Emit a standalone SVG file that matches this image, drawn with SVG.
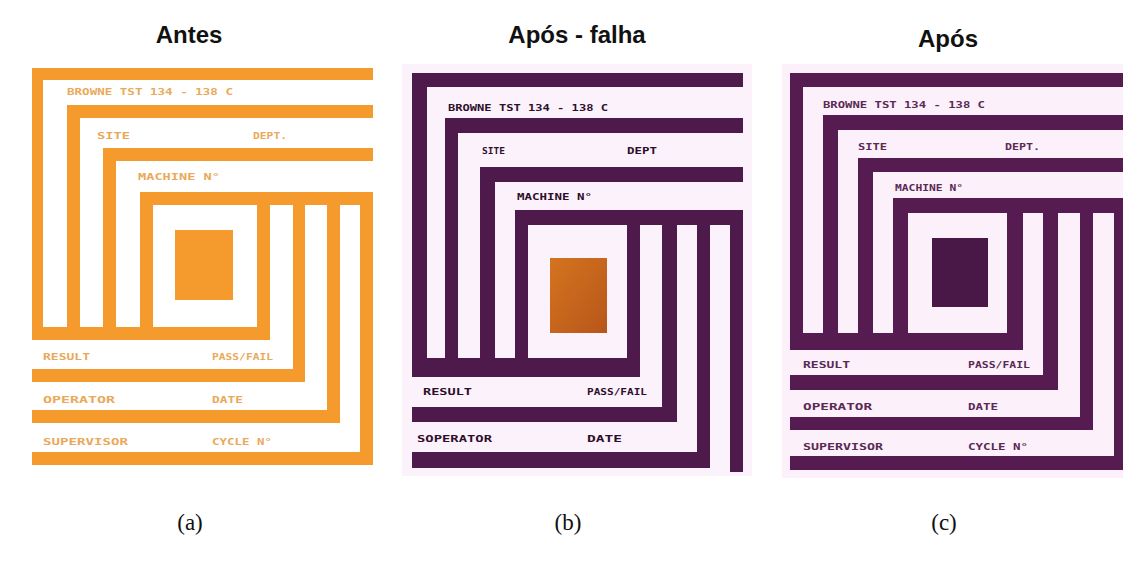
<svg xmlns="http://www.w3.org/2000/svg" width="1123" height="565" viewBox="0 0 1123 565">
  <defs>
    <linearGradient id="sqB" x1="0" y1="0" x2="1" y2="1">
      <stop offset="0" stop-color="#d4741f"/>
      <stop offset="1" stop-color="#b8561a"/>
    </linearGradient>
  </defs>
  <style>
    .title { font-family: "Liberation Sans", Arial, sans-serif; font-weight: bold; font-size: 24px; fill: #111; text-anchor: middle; }
    .cap { font-family: "Liberation Serif", "Times New Roman", serif; font-size: 23px; fill: #111; text-anchor: middle; }
    .or { fill: #f59b2e; }
    .pu { fill: #561c52; }
    .puB { fill: #4e1a4b; }
    .lblA { font-family: "DejaVu Sans Mono", "Liberation Mono", monospace; font-weight: bold; font-size: 8px; fill: #eaa95a; }
    .lblB { font-family: "DejaVu Sans Mono", "Liberation Mono", monospace; font-weight: bold; font-size: 9px; fill: #2e0f2c; }
    .lblC { font-family: "DejaVu Sans Mono", "Liberation Mono", monospace; font-weight: bold; font-size: 8px; fill: #5a2a56; }
  </style>
  <rect width="1123" height="565" fill="#ffffff"/>

  <!-- Titles -->
  <text class="title" x="189" y="43">Antes</text>
  <text class="title" x="577" y="43">Após - falha</text>
  <text class="title" x="948" y="47">Após</text>

  <!-- Panel (a) -->
  <g id="panel-a">
    <g class="or">
      <rect x="32" y="68" width="341" height="12"/>
      <rect x="32" y="68" width="11" height="272"/>
      <rect x="67" y="105" width="306" height="13"/>
      <rect x="67" y="105" width="13" height="235"/>
      <rect x="103" y="148" width="270" height="13"/>
      <rect x="103" y="148" width="13" height="192"/>
      <rect x="140" y="192" width="233" height="13"/>
      <rect x="140" y="192" width="13" height="148"/>
      <rect x="32" y="327" width="238" height="13"/>
      <rect x="257" y="192" width="13" height="148"/>
      <rect x="293" y="192" width="12" height="190"/>
      <rect x="32" y="369" width="273" height="13"/>
      <rect x="327" y="192" width="13" height="231"/>
      <rect x="32" y="410" width="308" height="13"/>
      <rect x="360" y="192" width="13" height="273"/>
      <rect x="32" y="452" width="341" height="13"/>
      <rect x="175" y="230" width="58" height="70"/>
    </g>
    <g class="lblA">
      <text x="67" y="95" textLength="166" lengthAdjust="spacingAndGlyphs">BROWNE TST 134 - 138 C</text>
      <text x="97" y="139" textLength="33" lengthAdjust="spacingAndGlyphs">SITE</text>
      <text x="253" y="139" textLength="34" lengthAdjust="spacingAndGlyphs">DEPT.</text>
      <text x="138" y="180" textLength="82" lengthAdjust="spacingAndGlyphs">MACHINE N°</text>
      <text x="43" y="360" textLength="47" lengthAdjust="spacingAndGlyphs">RESULT</text>
      <text x="212" y="360" textLength="61" lengthAdjust="spacingAndGlyphs">PASS/FAIL</text>
      <text x="43" y="403" textLength="72" lengthAdjust="spacingAndGlyphs">OPERATOR</text>
      <text x="212" y="403" textLength="31" lengthAdjust="spacingAndGlyphs">DATE</text>
      <text x="43" y="445" textLength="85" lengthAdjust="spacingAndGlyphs">SUPERVISOR</text>
      <text x="212" y="445" textLength="60" lengthAdjust="spacingAndGlyphs">CYCLE N°</text>
    </g>
  </g>

  <!-- Panel (b) -->
  <g id="panel-b">
    <rect x="402" y="64" width="350" height="412" fill="#fcf2fb"/>
    <g class="puB">
      <rect x="412" y="73" width="331" height="14"/>
      <rect x="412" y="73" width="15" height="304"/>
      <rect x="445" y="118" width="298" height="15"/>
      <rect x="445" y="118" width="13" height="259"/>
      <rect x="480" y="167" width="263" height="15"/>
      <rect x="480" y="167" width="15" height="210"/>
      <rect x="515" y="210" width="228" height="15"/>
      <rect x="515" y="210" width="13" height="167"/>
      <rect x="412" y="358" width="228" height="19"/>
      <rect x="627" y="210" width="13" height="167"/>
      <rect x="662" y="210" width="15" height="212"/>
      <rect x="412" y="407" width="265" height="15"/>
      <rect x="697" y="210" width="13" height="258"/>
      <rect x="412" y="452" width="298" height="16"/>
      <rect x="730" y="210" width="13" height="262"/>
    </g>
    <rect x="550" y="258" width="57" height="75" fill="url(#sqB)"/>
    <g class="lblB">
      <text x="448" y="111" textLength="160" lengthAdjust="spacingAndGlyphs">BROWNE TST 134 - 138 C</text>
      <text x="482" y="154" textLength="23" lengthAdjust="spacingAndGlyphs">SITE</text>
      <text x="627" y="154" textLength="30" lengthAdjust="spacingAndGlyphs">DEPT</text>
      <text x="517" y="200" textLength="75" lengthAdjust="spacingAndGlyphs">MACHINE N°</text>
      <text x="423" y="395" textLength="49" lengthAdjust="spacingAndGlyphs">RESULT</text>
      <text x="587" y="395" textLength="60" lengthAdjust="spacingAndGlyphs">PASS/FAIL</text>
      <text x="417" y="442" textLength="75" lengthAdjust="spacingAndGlyphs">SOPERATOR</text>
      <text x="587" y="442" textLength="35" lengthAdjust="spacingAndGlyphs">DATE</text>
    </g>
  </g>

  <!-- Panel (c) -->
  <g id="panel-c">
    <rect x="782" y="64" width="341" height="414" fill="#fcf0fa"/>
    <g class="pu">
      <rect x="790" y="73" width="333" height="14"/>
      <rect x="790" y="73" width="13" height="277"/>
      <rect x="823" y="115" width="300" height="15"/>
      <rect x="823" y="115" width="15" height="235"/>
      <rect x="858" y="158" width="265" height="14"/>
      <rect x="858" y="158" width="15" height="192"/>
      <rect x="893" y="198" width="230" height="15"/>
      <rect x="893" y="198" width="15" height="152"/>
      <rect x="790" y="333" width="233" height="17"/>
      <rect x="1007" y="198" width="16" height="152"/>
      <rect x="1043" y="198" width="15" height="192"/>
      <rect x="790" y="375" width="268" height="15"/>
      <rect x="1080" y="198" width="13" height="232"/>
      <rect x="790" y="417" width="303" height="13"/>
      <rect x="1114" y="198" width="9" height="272"/>
      <rect x="790" y="456" width="333" height="14"/>
      <rect x="932" y="238" width="56" height="69" fill="#4a1846"/>
    </g>
    <g class="lblC">
      <text x="823" y="108" textLength="162" lengthAdjust="spacingAndGlyphs">BROWNE TST 134 - 138 C</text>
      <text x="858" y="150" textLength="29" lengthAdjust="spacingAndGlyphs">SITE</text>
      <text x="1005" y="150" textLength="35" lengthAdjust="spacingAndGlyphs">DEPT.</text>
      <text x="895" y="191" textLength="68" lengthAdjust="spacingAndGlyphs">MACHINE N°</text>
      <text x="803" y="368" textLength="47" lengthAdjust="spacingAndGlyphs">RESULT</text>
      <text x="968" y="368" textLength="62" lengthAdjust="spacingAndGlyphs">PASS/FAIL</text>
      <text x="803" y="410" textLength="69" lengthAdjust="spacingAndGlyphs">OPERATOR</text>
      <text x="968" y="410" textLength="30" lengthAdjust="spacingAndGlyphs">DATE</text>
      <text x="803" y="450" textLength="80" lengthAdjust="spacingAndGlyphs">SUPERVISOR</text>
      <text x="968" y="450" textLength="60" lengthAdjust="spacingAndGlyphs">CYCLE N°</text>
    </g>
  </g>

  <!-- Captions -->
  <text class="cap" x="190" y="530">(a)</text>
  <text class="cap" x="568" y="530">(b)</text>
  <text class="cap" x="944" y="530">(c)</text>
</svg>
